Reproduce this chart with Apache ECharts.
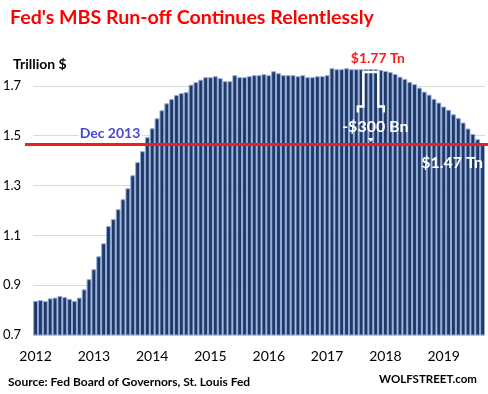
<!DOCTYPE html>
<html><head><meta charset="utf-8">
<script src="https://cdn.jsdelivr.net/npm/echarts@6/dist/echarts.min.js"></script>
<style>html,body{margin:0;padding:0;background:#fff}#c{width:488px;height:394px}</style>
</head><body><div id="c"></div>
<script>
// ---- data (Trillion $, monthly, Jan 2012 .. Sep 2019) ----
const years = [2012, 2013, 2014, 2015, 2016, 2017, 2018, 2019];
const mbs2012 = [0.837, 0.840, 0.836, 0.847, 0.850, 0.857, 0.852, 0.845, 0.837, 0.850, 0.883, 0.924];
const mbs2013 = [0.964, 1.016, 1.068, 1.137, 1.165, 1.205, 1.245, 1.289, 1.341, 1.394, 1.438, 1.494];
const mbs2014 = [1.530, 1.570, 1.602, 1.630, 1.647, 1.663, 1.671, 1.675, 1.705, 1.715, 1.725, 1.735];
const mbs2015 = [1.735, 1.739, 1.731, 1.719, 1.719, 1.743, 1.735, 1.735, 1.739, 1.743, 1.743, 1.747];
const mbs2016 = [1.743, 1.759, 1.751, 1.743, 1.743, 1.743, 1.739, 1.743, 1.735, 1.735, 1.739, 1.739];
const mbs2017 = [1.743, 1.771, 1.767, 1.767, 1.771, 1.767, 1.767, 1.767, 1.767, 1.768, 1.767, 1.764];
const mbs2018 = [1.760, 1.756, 1.748, 1.737, 1.728, 1.716, 1.707, 1.693, 1.677, 1.665, 1.648, 1.633];
const mbs2019 = [1.617, 1.604, 1.586, 1.571, 1.553, 1.529, 1.507, 1.486, 1.465];
const yTickLabels = ['0.7', '0.9', '1.1', '1.3', '1.5', '1.7'];
const peakValue = 1.77, peakLabel = '$1.77 Tn', peakIndex = 69;
const currentValue = 1.465, currentLabel = '$1.47 Tn';
const dropLabel = '-$300 Bn';
const startLabel = 'Dec 2013', startIndex = 23;
const titleText = "Fed's MBS Run-off Continues Relentlessly";
const unitText = 'Trillion $';
const sourceText = 'Source: Fed Board of Governors, St. Louis Fed';
const brandText = 'WOLFSTREET.com';

const mbsValues = [].concat(mbs2012, mbs2013, mbs2014, mbs2015, mbs2016, mbs2017, mbs2018, mbs2019);
const months = [];
years.forEach(y => { for (let m = 1; m <= 12; m++) months.push(y + '-' + (m < 10 ? '0' + m : m)); });
months.length = mbsValues.length;

const FONT = 'Lato, "DejaVu Sans", sans-serif';
const chart = echarts.init(document.getElementById('c'), null, { renderer: 'canvas' });

chart.setOption({
  animation: false,
  backgroundColor: '#ffffff',
  grid: { left: 32, right: 3, top: 61, bottom: 59, containLabel: false },
  xAxis: {
    type: 'category',
    data: months,
    boundaryGap: true,
    axisLine: { show: true, lineStyle: { color: '#d9d9d9', width: 1 } },
    axisTick: { show: false },
    axisLabel: {
      interval: (i, v) => v.slice(5) === '01',
      formatter: v => v.slice(0, 4),
      color: '#000', fontFamily: FONT, fontSize: 14, margin: 14
    },
    splitLine: { show: false }
  },
  yAxis: {
    type: 'value',
    min: 0.7, max: 1.8, interval: 0.1,
    axisLine: { show: false },
    axisTick: { show: false },
    axisLabel: {
      formatter: v => { const s = (Math.round(v * 10) / 10).toFixed(1); return yTickLabels.indexOf(s) >= 0 ? s : ''; },
      color: '#000', fontFamily: FONT, fontSize: 13, margin: 12
    },
    splitLine: { show: true, lineStyle: { color: ['#d9d9d9', 'rgba(0,0,0,0)'], width: 1 } }
  },
  series: [{
    type: 'bar',
    data: mbsValues,
    barCategoryGap: '0%',
    itemStyle: { color: '#203864', borderColor: '#8faadc', borderWidth: 1 },
    z: 2
  }]
});

function px(i, v) { return chart.convertToPixel({ xAxisIndex: 0, yAxisIndex: 0 }, [months[i], v]); }
const redY = px(0, currentValue)[1];
const pk = px(peakIndex, peakValue);
const st = px(startIndex, 1.5);
const bx = pk[0], by = pk[1];

function txt(text, x, y, opts) {
  return {
    type: 'text', z: 100,
    style: Object.assign({ text: text, x: x, y: y, fill: '#000', font: '13px ' + FONT,
      align: 'left', verticalAlign: 'middle', textAlign: 'left', textVerticalAlign: 'middle' }, opts || {})
  };
}

chart.setOption({
  graphic: [
    txt(titleText, 10, 18, { fill: '#ff0000', font: 'bold 19.6px ' + FONT }),
    txt(unitText, 13, 64, { font: 'bold 14px ' + FONT }),
    { type: 'line', z: 50, shape: { x1: 25, y1: redY, x2: 488, y2: redY }, style: { stroke: '#ee1c25', lineWidth: 3 } },
    txt(startLabel, st[0] - 6, 133, { fill: '#4646d6', font: 'bold 14px ' + FONT, align: 'right', textAlign: 'right',
      backgroundColor: '#ffffff', padding: [0, 1, 0, 1] }),
    txt(peakLabel, bx + 7, 58, { fill: '#ff1a1a', font: 'bold 14px ' + FONT, align: 'center', textAlign: 'center' }),
    { type: 'polyline', z: 60,
      shape: { points: [[bx - 13, by + 44], [bx - 13, by + 38], [bx - 7.5, by + 38], [bx - 7.5, by + 3.5], [bx + 7.5, by + 3.5], [bx + 7.5, by + 38], [bx + 13, by + 38], [bx + 13, by + 44]] },
      style: { stroke: '#ffffff', lineWidth: 2.5, fill: null } },
    txt(dropLabel, bx + 4.5, 127, { fill: '#ffffff', font: 'bold 16px ' + FONT, align: 'center', textAlign: 'center' }),
    { type: 'polygon', z: 60, shape: { points: [[bx - 3, 138], [bx + 3, 138], [bx, 142]] }, style: { fill: '#ffffff' } },
    txt(currentLabel, 483, 163, { fill: '#ffffff', font: 'bold 16px ' + FONT, align: 'right', textAlign: 'right' }),
    txt(sourceText, 8, 382, { font: 'bold 12px ' + FONT }),
    txt(brandText, 477, 379, { font: 'bold 11.5px ' + FONT, align: 'right', textAlign: 'right' })
  ]
});
</script>
</body></html>
